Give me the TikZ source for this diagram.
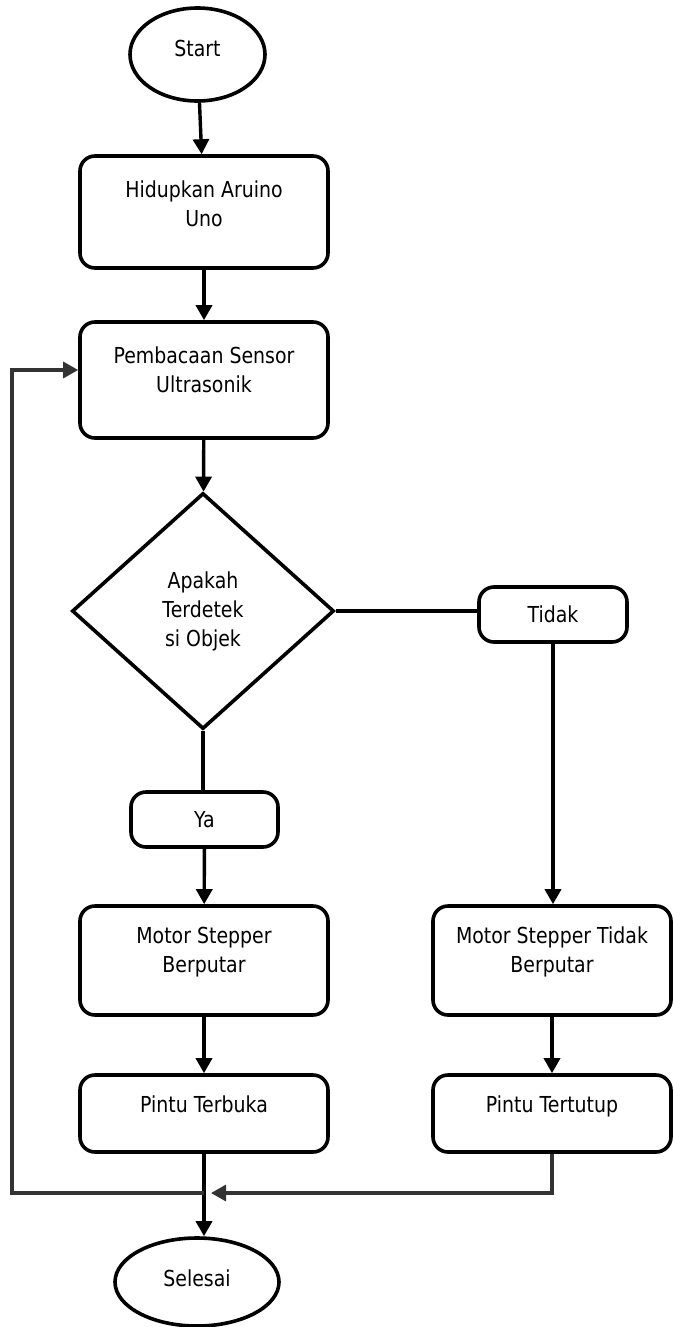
\documentclass[tikz,border=0pt]{standalone}
\usepackage{fontspec}
\setmainfont[FakeStretch=0.86]{DejaVu Sans}
\usetikzlibrary{shapes.geometric,arrows.meta}

\tikzset{
  terminal/.style={ellipse, draw, line width=1.8pt, inner sep=0pt, align=center},
  proses/.style={rectangle, rounded corners=7.5pt, draw, line width=1.8pt, inner sep=0pt, align=center},
  keputusan/.style={diamond, draw, line width=1.8pt, inner sep=0pt, align=center,
                    minimum width=131pt, minimum height=118pt},
  garis/.style={line width=1.7pt},
  panah/.style={line width=1.7pt, -{Triangle[length=7.5pt,width=8pt]}},
  panahabu/.style={draw=black!80, line width=1.6pt, -{Triangle[length=7.5pt,width=8pt]}}
}

\begin{document}
\begin{tikzpicture}[x=0.5pt, y=-0.5pt, font=\fontsize{11}{14.5}\selectfont]
    \useasboundingbox (0,0) rectangle (673,1327);
    %! --- Alur utama ---
    \node[terminal, minimum width=67.5pt, minimum height=46.5pt] (start) at (197.5,54.5) {Start\\[-8pt]\mbox{}};
    \node[proses, minimum width=124pt, minimum height=56pt] (hidup) at (204,212) {Hidupkan Aruino\\Uno\\[-6pt]\mbox{}};
    \node[proses, minimum width=124pt, minimum height=58pt] (baca) at (204,380) {Pembacaan Sensor\\Ultrasonik\\[-4pt]\mbox{}};
    \node[keputusan] (cek) at (203,611) {Apakah\\Terdetek\\si Objek};

    % Cabang Ya / Tidak
    \node[proses, minimum width=74pt, minimum height=27.5pt] (tidak) at (553,614.5) {Tidak};
    \node[proses, minimum width=73.5pt, minimum height=27.5pt] (ya) at (204.5,819.5) {Ya};

    % Motor dan pintu
    \node[proses, minimum width=124pt, minimum height=54.5pt] (motor1) at (204,960.5) {Motor Stepper\\Berputar\\[-3.4pt]\mbox{}};
    \node[proses, minimum width=119pt, minimum height=54.5pt] (motor2) at (552,960.5) {Motor Stepper Tidak\\Berputar\\[-3.4pt]\mbox{}};
    \node[proses, minimum width=124pt, minimum height=38.5pt] (pintu1) at (204,1113.5) {Pintu Terbuka\\[-5pt]\mbox{}};
    \node[proses, minimum width=119pt, minimum height=38.5pt] (pintu2) at (552,1113.5) {Pintu Tertutup\\[-5pt]\mbox{}};
    \node[terminal, minimum width=82pt, minimum height=44pt] (selesai) at (197,1282) {Selesai\\[-10.5pt]\mbox{}};

    % Panah
    \draw[panah] (start) -- (hidup);
    \draw[panah] (hidup) -- (baca);
    \draw[panah] (baca) -- (cek);
    \draw[garis] (cek.east) -- (cek.east -| tidak.west);
    \draw[garis] (cek.south) -- (cek.south |- ya.north);
    \draw[panah] (tidak.south) -- (tidak.south |- motor2.north);
    \draw[panah] (ya) -- (motor1);
    \draw[panah] (motor1) -- (pintu1);
    \draw[panah] (motor2) -- (pintu2);
    \draw[panah] (pintu1.south) -- (pintu1.south |- selesai.north);

    % Jalur kembali
    \coordinate (kiri) at (12,1193);
    \coordinate (gabung) at (pintu1.south |- kiri);
    \draw[panahabu] (pintu2.south) |- ([xshift=3.5pt]gabung);
    \draw[panahabu] (gabung) -- (kiri) |- ([yshift=5pt]baca.west);
\end{tikzpicture}
\end{document}
